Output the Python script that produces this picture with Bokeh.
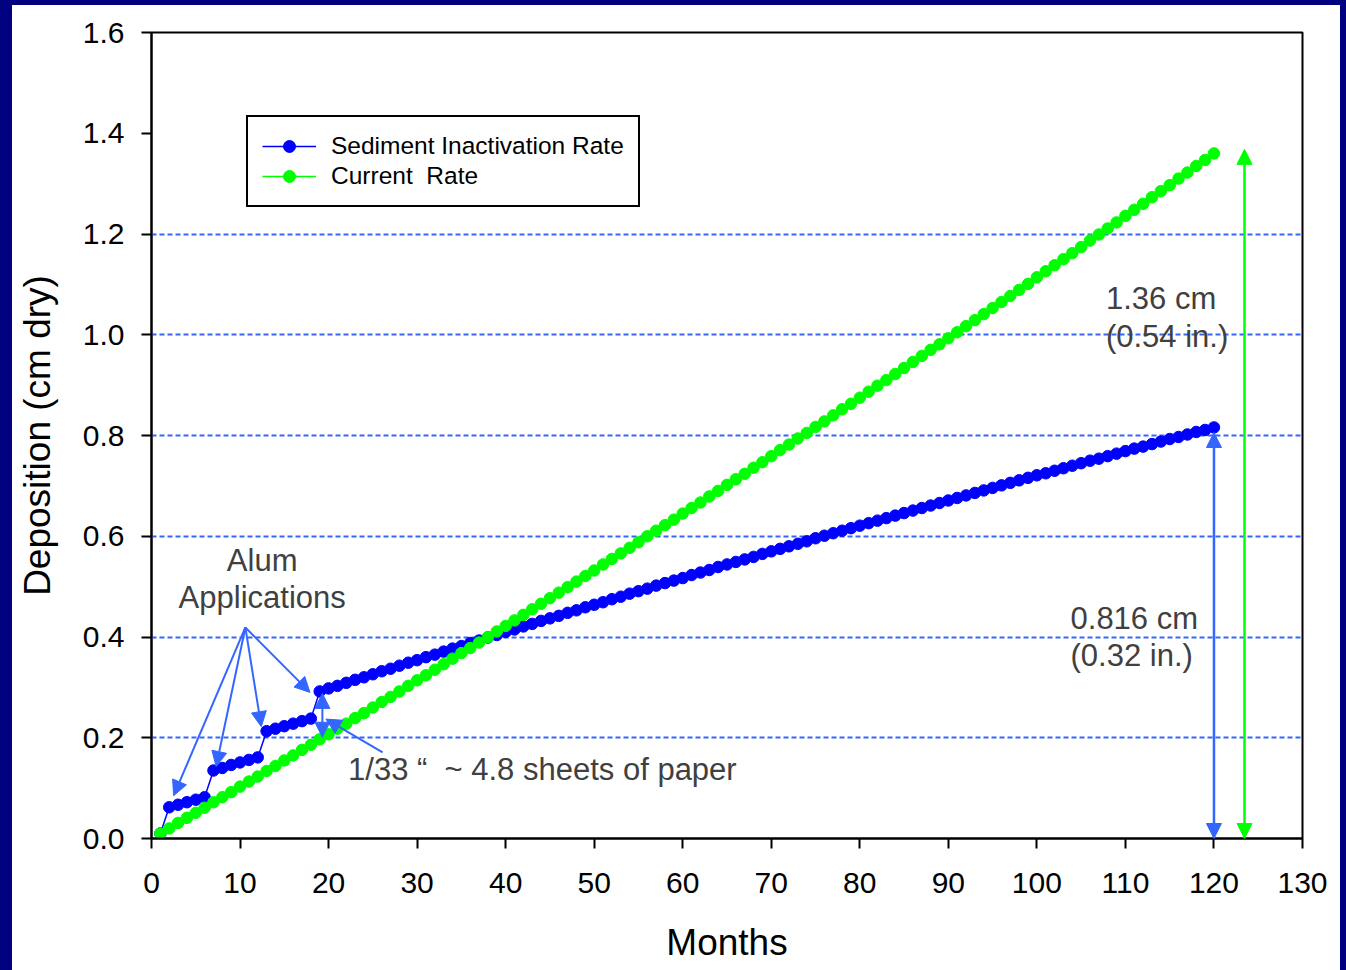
from bokeh.plotting import figure
from bokeh.models import Range1d, FixedTicker, PrintfTickFormatter, Arrow, NormalHead, ColumnDataSource
from bokeh.core.properties import value
from bokeh.embed import file_html
from bokeh.resources import INLINE

# ---------------- data ----------------
months = list(range(1, 121))

sediment_inactivation = [
    0.010, 0.062, 0.067, 0.072, 0.077, 0.082, 0.135, 0.140, 0.146, 0.151,
    0.156, 0.161, 0.213, 0.218, 0.223, 0.228, 0.233, 0.238, 0.292, 0.298,
    0.303, 0.309, 0.315, 0.320, 0.326, 0.332, 0.337, 0.343, 0.349, 0.354,
    0.360, 0.365, 0.371, 0.377, 0.382, 0.388, 0.393, 0.399, 0.404, 0.410,
    0.415, 0.421, 0.426, 0.432, 0.437, 0.442, 0.448, 0.453, 0.459, 0.464,
    0.469, 0.475, 0.480, 0.486, 0.491, 0.496, 0.502, 0.507, 0.512, 0.517,
    0.523, 0.528, 0.533, 0.539, 0.544, 0.549, 0.554, 0.559, 0.565, 0.570,
    0.575, 0.580, 0.585, 0.590, 0.596, 0.601, 0.606, 0.611, 0.616, 0.621,
    0.626, 0.631, 0.636, 0.641, 0.646, 0.651, 0.656, 0.661, 0.666, 0.671,
    0.676, 0.681, 0.686, 0.691, 0.696, 0.701, 0.706, 0.711, 0.716, 0.721,
    0.725, 0.730, 0.735, 0.740, 0.745, 0.750, 0.754, 0.759, 0.764, 0.769,
    0.774, 0.778, 0.783, 0.788, 0.793, 0.797, 0.802, 0.807, 0.811, 0.816,
]

current_rate = [
    0.010, 0.020, 0.031, 0.041, 0.051, 0.061, 0.072, 0.082, 0.092, 0.103,
    0.113, 0.123, 0.134, 0.144, 0.155, 0.165, 0.176, 0.186, 0.197, 0.207,
    0.218, 0.228, 0.239, 0.249, 0.260, 0.271, 0.281, 0.292, 0.303, 0.314,
    0.324, 0.335, 0.346, 0.357, 0.368, 0.378, 0.389, 0.400, 0.411, 0.422,
    0.433, 0.444, 0.455, 0.466, 0.477, 0.488, 0.499, 0.510, 0.521, 0.532,
    0.544, 0.555, 0.566, 0.577, 0.588, 0.600, 0.611, 0.622, 0.633, 0.645,
    0.656, 0.667, 0.679, 0.690, 0.702, 0.713, 0.724, 0.736, 0.747, 0.759,
    0.771, 0.782, 0.794, 0.805, 0.817, 0.828, 0.840, 0.852, 0.863, 0.875,
    0.887, 0.899, 0.910, 0.922, 0.934, 0.946, 0.958, 0.970, 0.981, 0.993,
    1.005, 1.017, 1.029, 1.041, 1.053, 1.065, 1.077, 1.089, 1.101, 1.114,
    1.126, 1.138, 1.150, 1.162, 1.174, 1.187, 1.199, 1.211, 1.223, 1.236,
    1.248, 1.260, 1.273, 1.285, 1.297, 1.310, 1.322, 1.335, 1.347, 1.360,
]

series_names = ["Sediment Inactivation Rate", "Current  Rate"]
y_ticks = [0.0, 0.2, 0.4, 0.6, 0.8, 1.0, 1.2, 1.4, 1.6]
x_ticks = [0, 10, 20, 30, 40, 50, 60, 70, 80, 90, 100, 110, 120, 130]
grid_levels = [0.2, 0.4, 0.6, 0.8, 1.0, 1.2]

final_sediment = 0.816
final_current = 1.36

# annotation texts and anchor positions (data units)
NBSP = "\u00a0"
note_texts = ["Alum", "Applications", "1/33 \u201c" + NBSP * 2 + "~ 4.8 sheets of paper",
              "1.36 cm", "(0.54 in.)", "0.816 cm", "(0.32 in.)"]
note_x = [12.5, 12.5, 22.2, 107.8, 107.8, 103.8, 103.8]
note_y = [0.552, 0.478, 0.137, 1.072, 0.997, 0.437, 0.363]
note_align = ["center", "center", "left", "left", "left", "left", "left"]

alum_origin = (10.6, 0.419)
alum_targets_x = [2.5, 7.3, 12.4, 17.9]
alum_targets_y = [0.085, 0.143, 0.222, 0.290]

# ---------------- styles ----------------
BLUE = "#0000FF"
GREEN = "#00FF00"
ARROW_BLUE = "#3366FF"
TEXT_GRAY = "#404040"
FONT = "Liberation Sans"

p = figure(width=1328, height=965, output_backend="svg", toolbar_location=None,
           x_range=Range1d(0, 130), y_range=Range1d(0, 1.6),
           min_border_left=139, min_border_right=38, min_border_top=27, min_border_bottom=132)
p.styles = {"margin-left": "12px", "margin-top": "5px", "outline": "12px solid #000080"}
p.background_fill_color = "white"
p.border_fill_color = "white"
p.outline_line_color = "black"
p.outline_line_width = 2

# axes
p.xaxis.ticker = FixedTicker(ticks=x_ticks)
p.yaxis.ticker = FixedTicker(ticks=y_ticks)
p.yaxis.formatter = PrintfTickFormatter(format="%.1f")
for ax in (p.xaxis[0], p.yaxis[0]):
    ax.axis_line_color = "black"
    ax.axis_line_width = 2
    ax.major_tick_line_color = "black"
    ax.major_tick_line_width = 2
    ax.major_tick_in = 0
    ax.major_tick_out = 10
    ax.minor_tick_line_color = None
    ax.major_label_text_font = FONT
    ax.major_label_text_font_size = "30px"
    ax.major_label_text_color = "black"
    ax.axis_label_text_font = FONT
    ax.axis_label_text_font_size = "37px"
    ax.axis_label_text_font_style = "normal"
    ax.axis_label_text_color = "black"
p.xaxis.axis_label = "Months"
p.yaxis.axis_label = "Deposition (cm dry)"
p.xaxis.major_label_standoff = 24
p.yaxis.major_label_standoff = 17
p.xaxis.axis_label_standoff = 26
p.yaxis.axis_label_standoff = 22

# grid
p.xgrid.grid_line_color = None
p.ygrid.ticker = FixedTicker(ticks=grid_levels)
p.ygrid.grid_line_color = ARROW_BLUE
p.ygrid.grid_line_width = 1.8
p.ygrid.grid_line_dash = "5 3"

# series
src = ColumnDataSource(dict(m=months, sed=sediment_inactivation, cur=current_rate))
p.line("m", "sed", source=src, color=BLUE, line_width=1.5, legend_label=series_names[0])
p.scatter("m", "sed", source=src, size=11.5, fill_color=BLUE, line_color=BLUE, legend_label=series_names[0])
p.line("m", "cur", source=src, color=GREEN, line_width=1.5, legend_label=series_names[1])
p.scatter("m", "cur", source=src, size=11.5, fill_color=GREEN, line_color=GREEN, legend_label=series_names[1])

# legend
lg = p.legend[0]
lg.location = (95, 631)
lg.border_line_color = "black"
lg.border_line_width = 2
lg.border_line_alpha = 1
lg.background_fill_color = "white"
lg.background_fill_alpha = 1
lg.label_text_font = FONT
lg.label_text_font_size = "24.5px"
lg.label_text_color = "black"
lg.glyph_width = 54
lg.glyph_height = 30
lg.label_height = 30
lg.label_standoff = 15
lg.padding = 14
lg.spacing = 0
lg.margin = 0

# annotation texts
nsrc = ColumnDataSource(dict(x=note_x, y=note_y, t=note_texts, a=note_align))
p.text("x", "y", text="t", source=nsrc, text_align="a", text_baseline="middle",
       text_font=value(FONT), text_font_size="31px", text_color=TEXT_GRAY)

# arrows
def head(color):
    return NormalHead(size=15, fill_color=color, line_color=color, line_width=1)

for tx, ty in zip(alum_targets_x, alum_targets_y):
    p.add_layout(Arrow(end=head(ARROW_BLUE), x_start=alum_origin[0], y_start=alum_origin[1],
                       x_end=tx, y_end=ty, line_color=ARROW_BLUE, line_width=2))

# double arrow between the series at month 19
p.add_layout(Arrow(start=head(ARROW_BLUE), end=head(ARROW_BLUE), x_start=19.3, y_start=0.201,
                   x_end=19.3, y_end=0.288, line_color=ARROW_BLUE, line_width=2))
# pointer from the paper note
p.add_layout(Arrow(end=head(ARROW_BLUE), x_start=26.1, y_start=0.171, x_end=19.7, y_end=0.237,
                   line_color=ARROW_BLUE, line_width=2))

# total-deposition arrows
p.add_layout(Arrow(start=head(ARROW_BLUE), end=head(ARROW_BLUE), x_start=120.0, y_start=0.0,
                   x_end=120.0, y_end=final_sediment - 0.01, line_color=ARROW_BLUE, line_width=2.5))
p.add_layout(Arrow(start=head(GREEN), end=head(GREEN), x_start=123.45, y_start=0.0,
                   x_end=123.45, y_end=final_current + 0.008, line_color=GREEN, line_width=2.5))

open("out.html", "w").write(file_html(p, INLINE))
